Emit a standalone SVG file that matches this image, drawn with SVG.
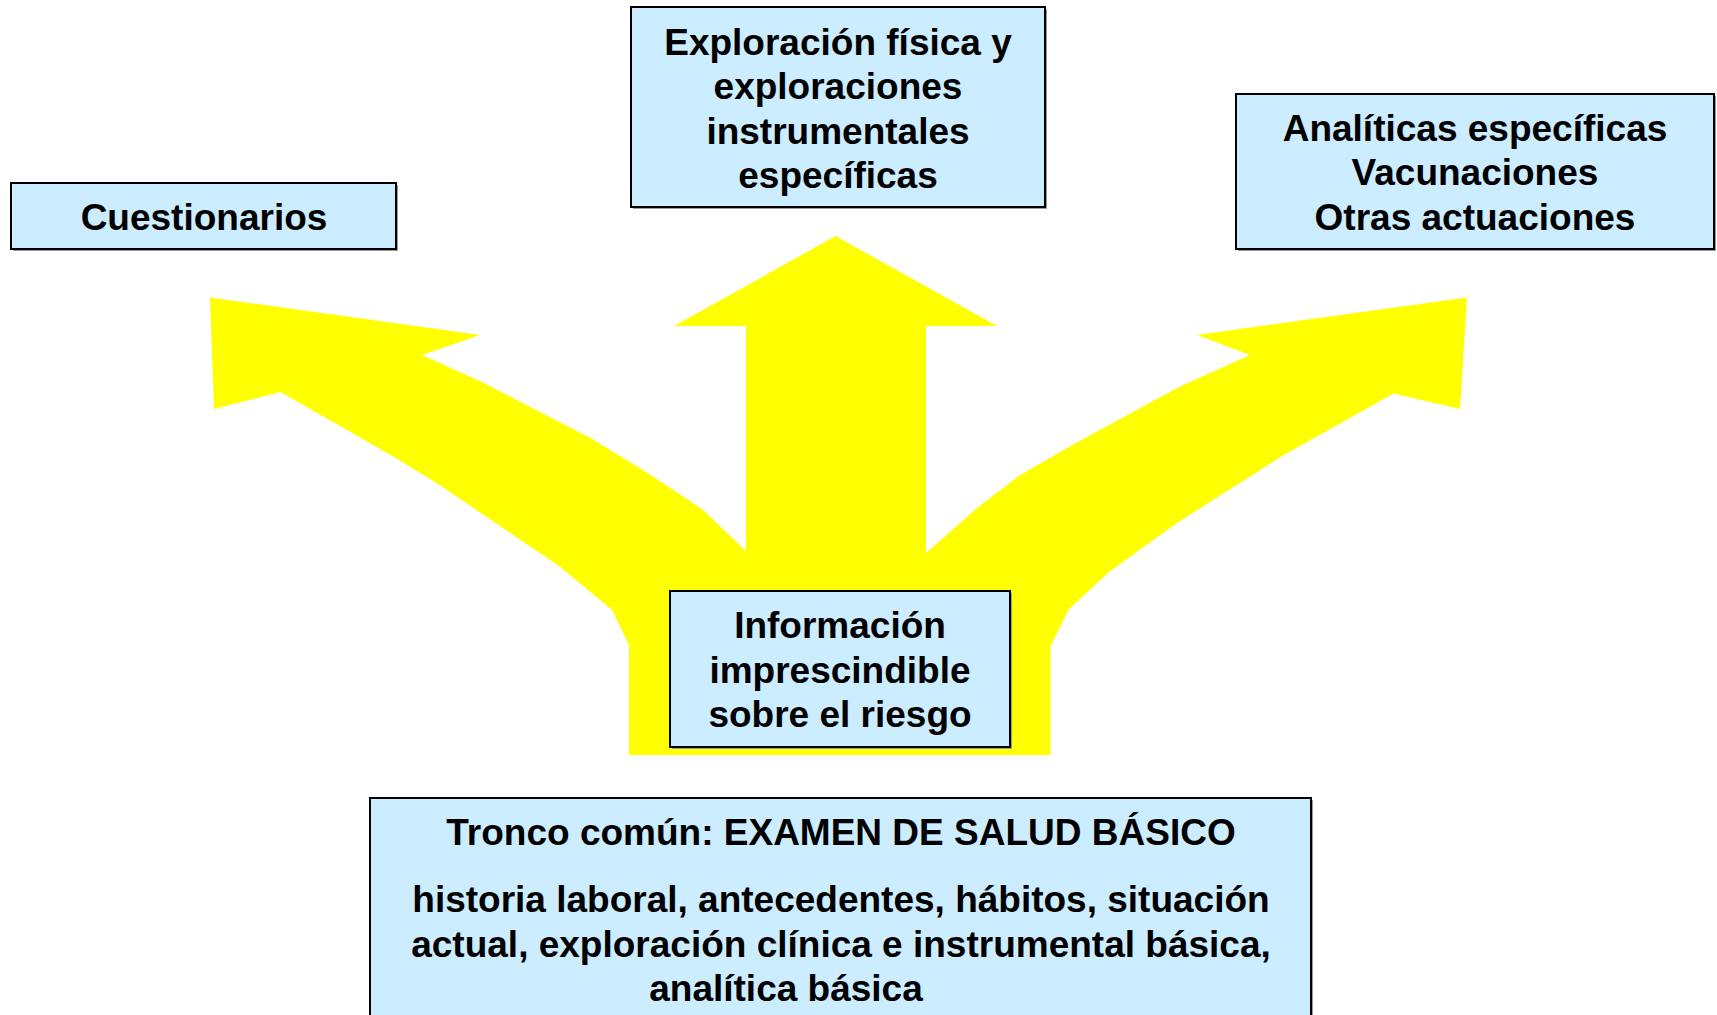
<svg xmlns="http://www.w3.org/2000/svg" width="1717" height="1015" viewBox="0 0 1717 1015">
<style>
.box{fill:#CCECFF;stroke:#000;stroke-width:2}
.sh{fill:#9a9a9a}
.t{font-family:"Liberation Sans",Arial,sans-serif;font-weight:bold;font-size:37px;fill:#000;text-anchor:middle}
</style>
<rect width="1717" height="1015" fill="#fff"/>
<g id="connectors">
<polygon fill="#FFFF00" points="629,755 629,645 612,610 559,566 438,484 395,457.5 280.5,392 214,409 210,297.5 480,335 422,355 484,383 590.5,438 643,470 702,509 746,551 746,326 674,326 835.6,236 997,326 926,326 926,553 977,508 1018.5,476 1074,444 1179,387 1250,355 1197,335 1467,297.5 1460,409 1393.5,393.6 1282,456 1177,523 1109,572 1069,609 1050.6,646 1050.6,755"/>
</g>
<g id="cuestionarios">
<rect class="sh" x="13" y="185" width="385" height="66"/>
<rect class="box" x="11" y="183" width="385" height="66"/>
<text class="t" x="204" y="230">Cuestionarios</text>
</g>
<g id="exploracion">
<rect class="sh" x="633" y="9" width="414" height="200"/>
<rect class="box" x="631" y="7" width="414" height="200"/>
<text class="t" x="838" y="55">Exploración física y</text>
<text class="t" x="838" y="99">exploraciones</text>
<text class="t" x="838" y="144">instrumentales</text>
<text class="t" x="838" y="188">específicas</text>
</g>
<g id="analiticas">
<rect class="sh" x="1238" y="96" width="478" height="155"/>
<rect class="box" x="1236" y="94" width="478" height="155"/>
<text class="t" x="1475" y="141">Analíticas específicas</text>
<text class="t" x="1475" y="185">Vacunaciones</text>
<text class="t" x="1475" y="230">Otras actuaciones</text>
</g>
<g id="informacion">
<rect class="sh" x="672" y="593" width="340" height="156"/>
<rect class="box" x="670" y="591" width="340" height="156"/>
<text class="t" x="840" y="638">Información</text>
<text class="t" x="840" y="683">imprescindible</text>
<text class="t" x="840" y="727">sobre el riesgo</text>
</g>
<g id="tronco">
<rect class="sh" x="372" y="800" width="941" height="230"/>
<rect class="box" x="370" y="798" width="941" height="230"/>
<text class="t" x="841" y="845">Tronco común: EXAMEN DE SALUD BÁSICO</text>
<text class="t" x="841" y="912">historia laboral, antecedentes, hábitos, situación</text>
<text class="t" x="841" y="957">actual, exploración clínica e instrumental básica,</text>
<text class="t" x="786" y="1001">analítica básica</text>
</g>
</svg>
